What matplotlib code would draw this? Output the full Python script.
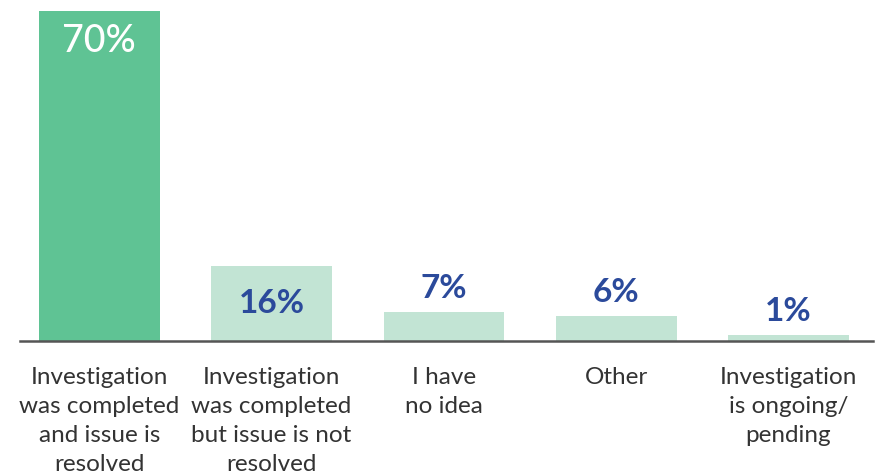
import matplotlib
matplotlib.use("Agg")
import matplotlib.pyplot as plt

categories = [
    "Investigation\nwas completed\nand issue is\nresolved",
    "Investigation\nwas completed\nbut issue is not\nresolved",
    "I have\nno idea",
    "Other",
    "Investigation\nis ongoing/\npending",
]
values = [70, 16, 6.2, 5.3, 1.2]
value_labels = ["70%", "16%", "7%", "6%", "1%"]

bar_colors = ["#5fc394", "#c2e4d4", "#c2e4d4", "#c2e4d4", "#c2e4d4"]
blue = "#2b4a9b"

W, H = 877, 476
fig = plt.figure(figsize=(W / 100, H / 100), dpi=100)
ax = fig.add_axes([20 / W, (H - 341) / H, (873 - 20) / W, (341 - 11) / H])

x = list(range(len(categories)))
ax.bar(x, values, width=0.70, color=bar_colors, zorder=2)
ax.set_xlim(-0.46, 4.49)
ax.set_ylim(0, 70)

for s in ["top", "right", "left"]:
    ax.spines[s].set_visible(False)
ax.spines["bottom"].set_color("#555555")
ax.spines["bottom"].set_linewidth(1.8)
ax.set_yticks([])
ax.set_xticks([])

fam = ["Lato", "DejaVu Sans"]
# value labels
for i, (v, lab) in enumerate(zip(values, value_labels)):
    if i == 0:
        ax.text(i, v - 6.4, lab, ha="center", va="center", color="white",
                fontsize=27, family=fam, fontweight="medium")
    elif i == 1:
        ax.text(i, v / 2, lab, ha="center", va="center", color=blue,
                fontsize=24, family=fam, fontweight="bold")
    else:
        ax.text(i, v + 5.0, lab, ha="center", va="center", color=blue,
                fontsize=24, family=fam, fontweight="bold")

# category labels
for i, c in enumerate(categories):
    ax.text(i, -0.08, c, transform=ax.get_xaxis_transform(), ha="center",
            va="top", fontsize=17.5, color="#333333", family=fam,
            linespacing=1.47)

fig.savefig("out.png", dpi=100)
